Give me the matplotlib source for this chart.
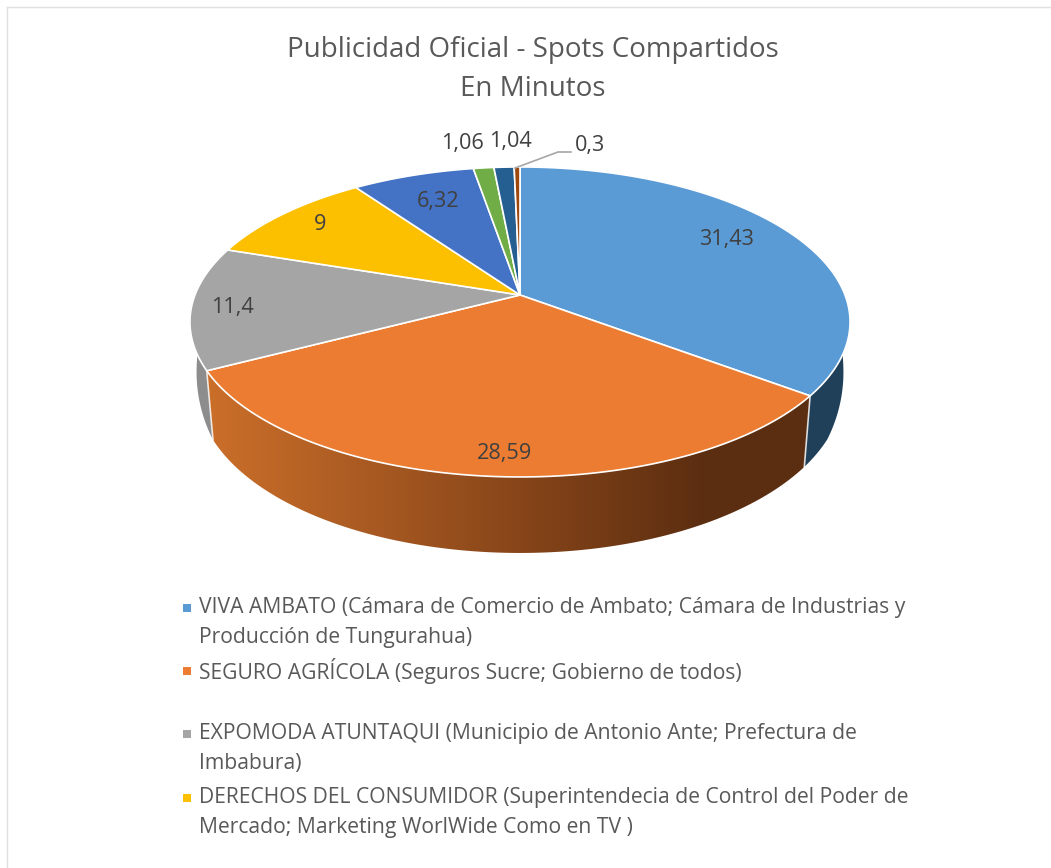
# Publicidad Oficial - pie with a fake 3D look, drawn by hand because
# matplotlib's pie has no perspective
import numpy as np
import matplotlib
matplotlib.use("Agg")
import matplotlib.pyplot as plt
from matplotlib.colors import LinearSegmentedColormap
from matplotlib.patches import Polygon, Rectangle

plt.rcParams['font.family'] = ['Open Sans', 'DejaVu Sans']

# %%
# Data
values = [31.43, 28.59, 11.4, 9, 6.32, 1.06, 1.04, 0.3]
colors = ["#5b9bd5", "#eb7c31", "#a5a5a5", "#fcc000", "#4472c4", "#70ad47", "#255e91", "#9e480e"]
title_lines = ["Publicidad Oficial - Spots Compartidos", "En Minutos"]

legend_labels = [
    "VIVA AMBATO (Cámara de Comercio de Ambato; Cámara de Industrias y\nProducción de Tungurahua)",
    "SEGURO AGRÍCOLA (Seguros Sucre; Gobierno de todos)",
    "EXPOMODA ATUNTAQUI (Municipio de Antonio Ante; Prefectura de\nImbabura)",
    "DERECHOS DEL CONSUMIDOR (Superintendecia de Control del Poder de\nMercado; Marketing WorlWide Como en TV )",
]
legend_colors = ["#5b9bd5", "#eb7c31", "#a5a5a5", "#fcc000"]

# Layout, in pixels of the picture
label_pos = [(726, 240), (504, 453), (232, 308), (320, 225), (438, 202), (462, 143), (510, 142), (590, 146)]
legend_y = [607.5, 670.5, 733.5, 797.5]

cx, cy = 520, 295
a, b, k = 150.3, 325.0, 0.174


def top_edge(deg):
    # perspective projection of the unit circle onto the picture
    t = np.radians(deg)
    d = 1 + k * np.sin(t)
    return cx + b * np.cos(t) / d, cy - a * np.sin(t) / d


def bottom_edge(deg):
    x, y = top_edge(deg)
    depth = np.interp(-np.sin(np.radians(deg)), [0, 0.17, 0.46, 0.6, 1], [35, 50, 69, 71, 76])
    return cx + (x - cx) * 0.98, y + depth


def side_poly(start, end):
    t = np.linspace(start, end, 200)
    xt, yt = top_edge(t)
    xb, yb = bottom_edge(t)
    return np.column_stack([np.r_[xt, xb[::-1]], np.r_[yt, yb[::-1]]])


# %%
f = plt.figure(figsize=(10.51, 8.68), dpi=100)
ax = f.add_axes([0, 0, 1, 1])

# slice angles, clockwise from the top
angles = 90 - np.r_[0, np.cumsum(values)] / sum(values) * 360

# sides: only the blue, orange and gray slices show
blue_end, orange_end, gray_end = angles[1], angles[2], angles[3]
ax.add_patch(Polygon(side_poly(0, blue_end), fc="#203f58", ec="none", zorder=1))
ax.add_patch(Polygon(side_poly(orange_end, -180), fc="#8d8d8d", ec="none", zorder=1))

orange_poly = Polygon(side_poly(blue_end, orange_end), fc="none", ec="none", zorder=1)
ax.add_patch(orange_poly)
side_cmap = LinearSegmentedColormap.from_list(
    "side", [(0, "#cb6f2a"), (0.27, "#a95a22"), (0.52, "#874519"), (0.82, "#5c2e11"), (1, "#5c2e11")])
im = ax.imshow(np.linspace(0, 1, 256).reshape(1, -1), cmap=side_cmap, extent=(205, 812, 560, 365),
               aspect="auto", zorder=1)
im.set_clip_path(orange_poly)

# white seams between the sides
for seam in (blue_end, orange_end):
    x0, y0 = top_edge(seam)
    x1, y1 = bottom_edge(seam)
    ax.plot([x0, x1], [y0, y1], color="white", lw=1.2, alpha=0.8, zorder=2)

# top face
for i, val in enumerate(values):
    t = np.linspace(angles[i], angles[i + 1], 150)
    xs, ys = top_edge(t)
    pts = np.column_stack([np.r_[cx, xs], np.r_[cy, ys]])
    ax.add_patch(Polygon(pts, fc=colors[i], ec="white", lw=1.2, joinstyle="round", zorder=3))

# data labels
for val, pos in zip(values, label_pos):
    ax.text(pos[0], pos[1], f"{val:g}".replace(".", ","), fontsize=15.6, color="#404040",
            ha="center", va="center", zorder=5)
ax.plot([515, 558, 571], [168, 152, 152], color="#a6a6a6", lw=1.2, zorder=4)

# title
ax.text(533, 50, title_lines[0], fontsize=20, color="#595959", ha="center", va="center")
ax.text(533, 89, title_lines[1], fontsize=20, color="#595959", ha="center", va="center")

# legend, wrapped by hand
for lab, col, y in zip(legend_labels, legend_colors, legend_y):
    ax.add_patch(Rectangle((183, y - 4), 8, 8, fc=col, ec="none"))
    for j, line in enumerate(lab.split("\n")):
        ax.text(199, y + j * 30, line, fontsize=15.2, color="#595959", ha="left", va="center")

# chart border, only the top and left edges show
ax.plot([6.5, 6.5], [868, 6.5], color="#e0e0e0", lw=1.0)
ax.plot([6.5, 1051], [6.5, 6.5], color="#e0e0e0", lw=1.0)

ax.set_xlim(0, 1051)
ax.set_ylim(868, 0)
ax.axis("off")

f.savefig("out.png", dpi=100)
